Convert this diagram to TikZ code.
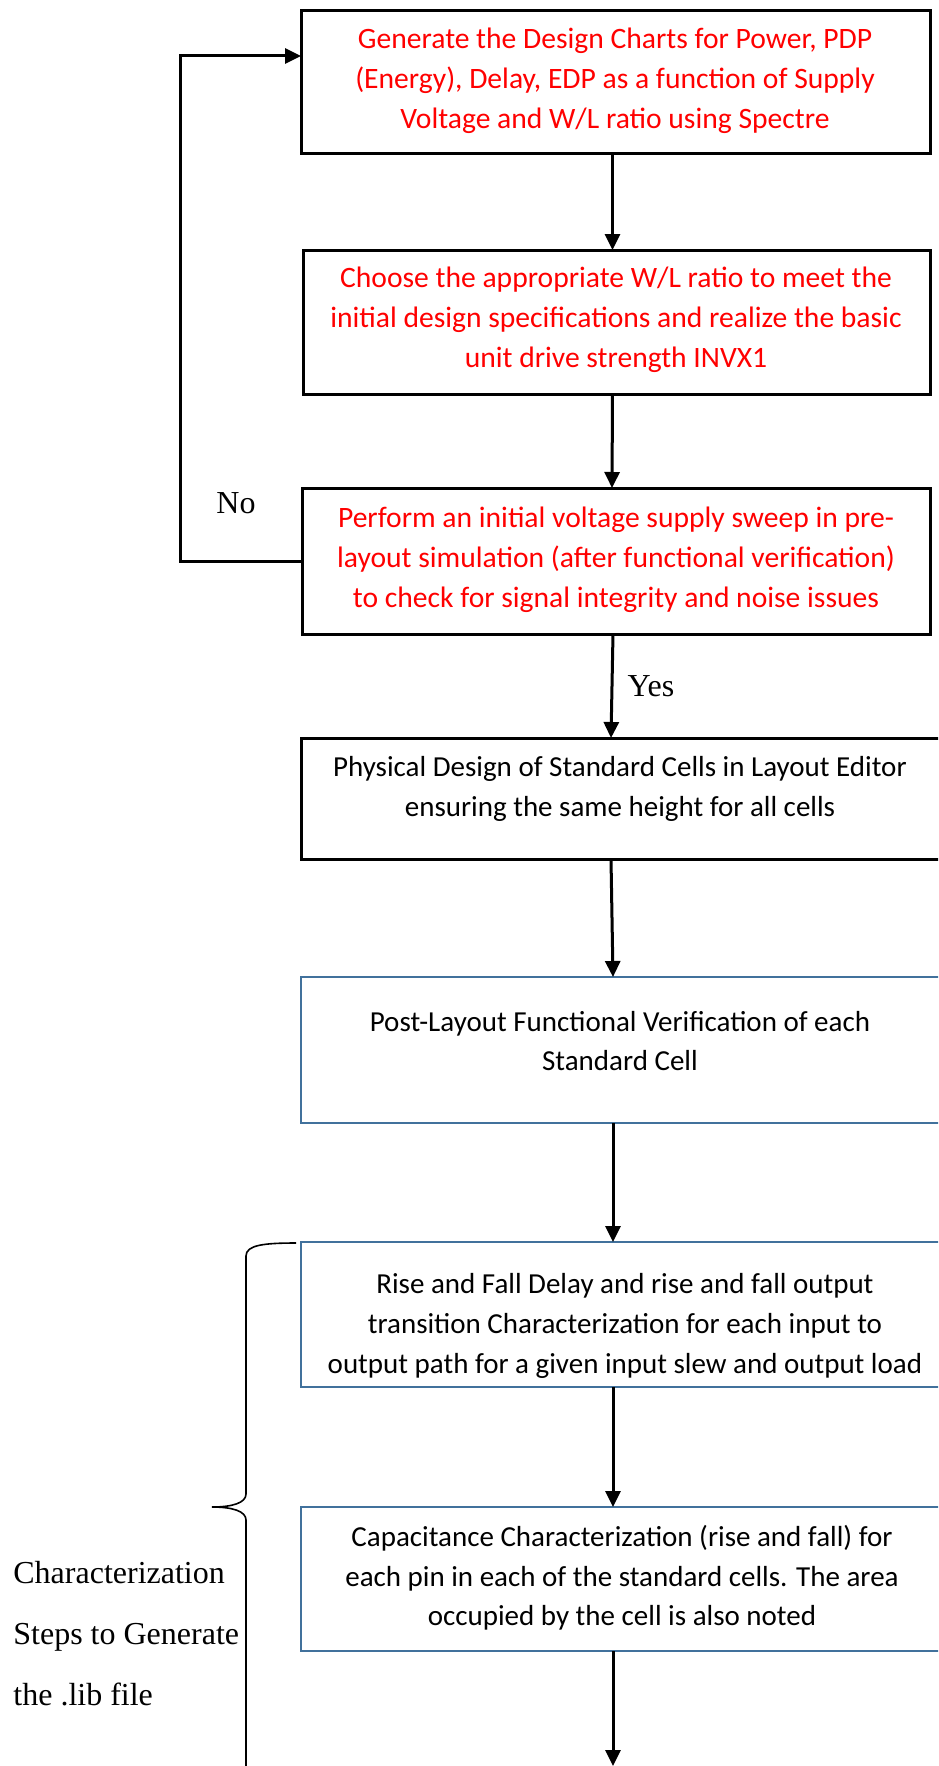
\documentclass[tikz,border=0pt]{standalone}
\usepackage{fontspec}
\setmainfont{Liberation Serif}
\newfontfamily\calib{Carlito}
\usetikzlibrary{arrows.meta}
\definecolor{boxblue}{RGB}{65,113,156}
\definecolor{txtred}{RGB}{255,0,0}
\tikzset{
  blackbox/.style={draw=black, line width=1.5pt, rectangle, inner sep=0pt, outer sep=0pt},
  bluebox/.style={draw=boxblue, line width=1.2pt, rectangle, inner sep=0pt, outer sep=0pt},
  boxtxt/.style={align=center, inner sep=0pt, font=\calib\fontsize{14.5pt}{19.8pt}\selectfont},
  redtxt/.style={boxtxt, text=txtred, font=\calib\fontsize{14.8pt}{20pt}\selectfont},
  lbl/.style={inner sep=0pt, font=\fontsize{16pt}{30.5pt}\selectfont},
  arr/.style={line width=1.5pt, -{Triangle[length=8pt,width=7.5pt]}},
  bracepath/.style={line width=0.8pt}
}
\begin{document}
\begin{tikzpicture}[x=0.5pt,y=-0.5pt]
\useasboundingbox (0,0) rectangle (938,1766);
\clip (0,0) rectangle (938,1766);
% boxes
\node[blackbox, minimum width=314.5pt, minimum height=71pt] (b1) at (615.5,82) {};
\node[blackbox, minimum width=313.5pt, minimum height=72pt] (b2) at (616.5,322) {};
\node[blackbox, minimum width=314pt, minimum height=73pt] (b3) at (616,561) {};
\node[blackbox, minimum width=322pt, minimum height=60.5pt] (b4) at (623,798.5) {};
\node[bluebox, minimum width=322pt, minimum height=73pt] (b5) at (623,1050) {};
\node[bluebox, minimum width=322pt, minimum height=72.5pt] (b6) at (623,1314.5) {};
\node[bluebox, minimum width=322pt, minimum height=72pt] (b7) at (623,1579) {};
% texts
\node[redtxt] (t1) at (615,81) {Generate the Design Charts for Power, PDP\\(Energy), Delay, EDP as a function of Supply\\Voltage and W/L ratio using Spectre};
\node[redtxt] (t2) at (616,320) {Choose the appropriate W/L ratio to meet the\\initial design specifications and realize the basic\\unit drive strength INVX1};
\node[redtxt] (t3) at (616,560) {Perform an initial voltage supply sweep in pre-\\layout simulation (after functional verification)\\to check for signal integrity and noise issues};
\node[boxtxt] (t4) at (620,789) {Physical Design of Standard Cells in Layout Editor\\ensuring the same height for all cells};
\node[boxtxt] (t5) at (620,1041) {Post-Layout Functional Verification of each\\Standard Cell};
\node[boxtxt] (t6) at (625,1326) {Rise and Fall Delay and rise and fall output\\transition Characterization for each input to\\output path for a given input slew and output load};
\node[boxtxt] (t7) at (622,1578) {Capacitance Characterization (rise and fall) for\\each pin in each of the standard cells. The area\\occupied by the cell is also noted};
% labels
\node[lbl] (no) at (236,503) {No};
\node[lbl] (yes) at (651,686) {Yes};
\node[lbl, align=left, anchor=west] (char) at (13,1634) {Characterization\\Steps to Generate\\the .lib file};
% connectors
\coordinate (fbx) at (180,0);
\coordinate (bottom) at (613,1766);
\draw[arr] ([xshift=-1.5pt]b1.south) -- ([xshift=-2pt]b2.north);
\draw[arr] ([xshift=-2pt]b2.south) -- ([xshift=-2pt]b3.north);
\draw[arr] ([xshift=-1.5pt]b3.south) -- ([xshift=-6pt]b4.north);
\draw[arr] ([xshift=-6pt]b4.south) -- ([xshift=-5pt]b5.north);
\draw[arr] ([xshift=-5pt]b5.south) -- ([xshift=-5pt]b6.north);
\draw[arr] ([xshift=-5pt]b6.south) -- ([xshift=-5pt]b7.north);
\draw[arr] ([xshift=-5pt]b7.south) -- (bottom);
\draw[arr] (b3.west) -- (b3.west -| fbx) |- ([yshift=13pt]b1.west);
% brace
\draw[bracepath] (296,1243) .. controls (264,1243) and (246,1245) .. (246,1256) -- (246,1494)
  .. controls (246,1503) and (232,1507) .. (212,1507)
  .. controls (232,1507) and (246,1511) .. (246,1520) -- (246,1800);
\end{tikzpicture}
\end{document}
